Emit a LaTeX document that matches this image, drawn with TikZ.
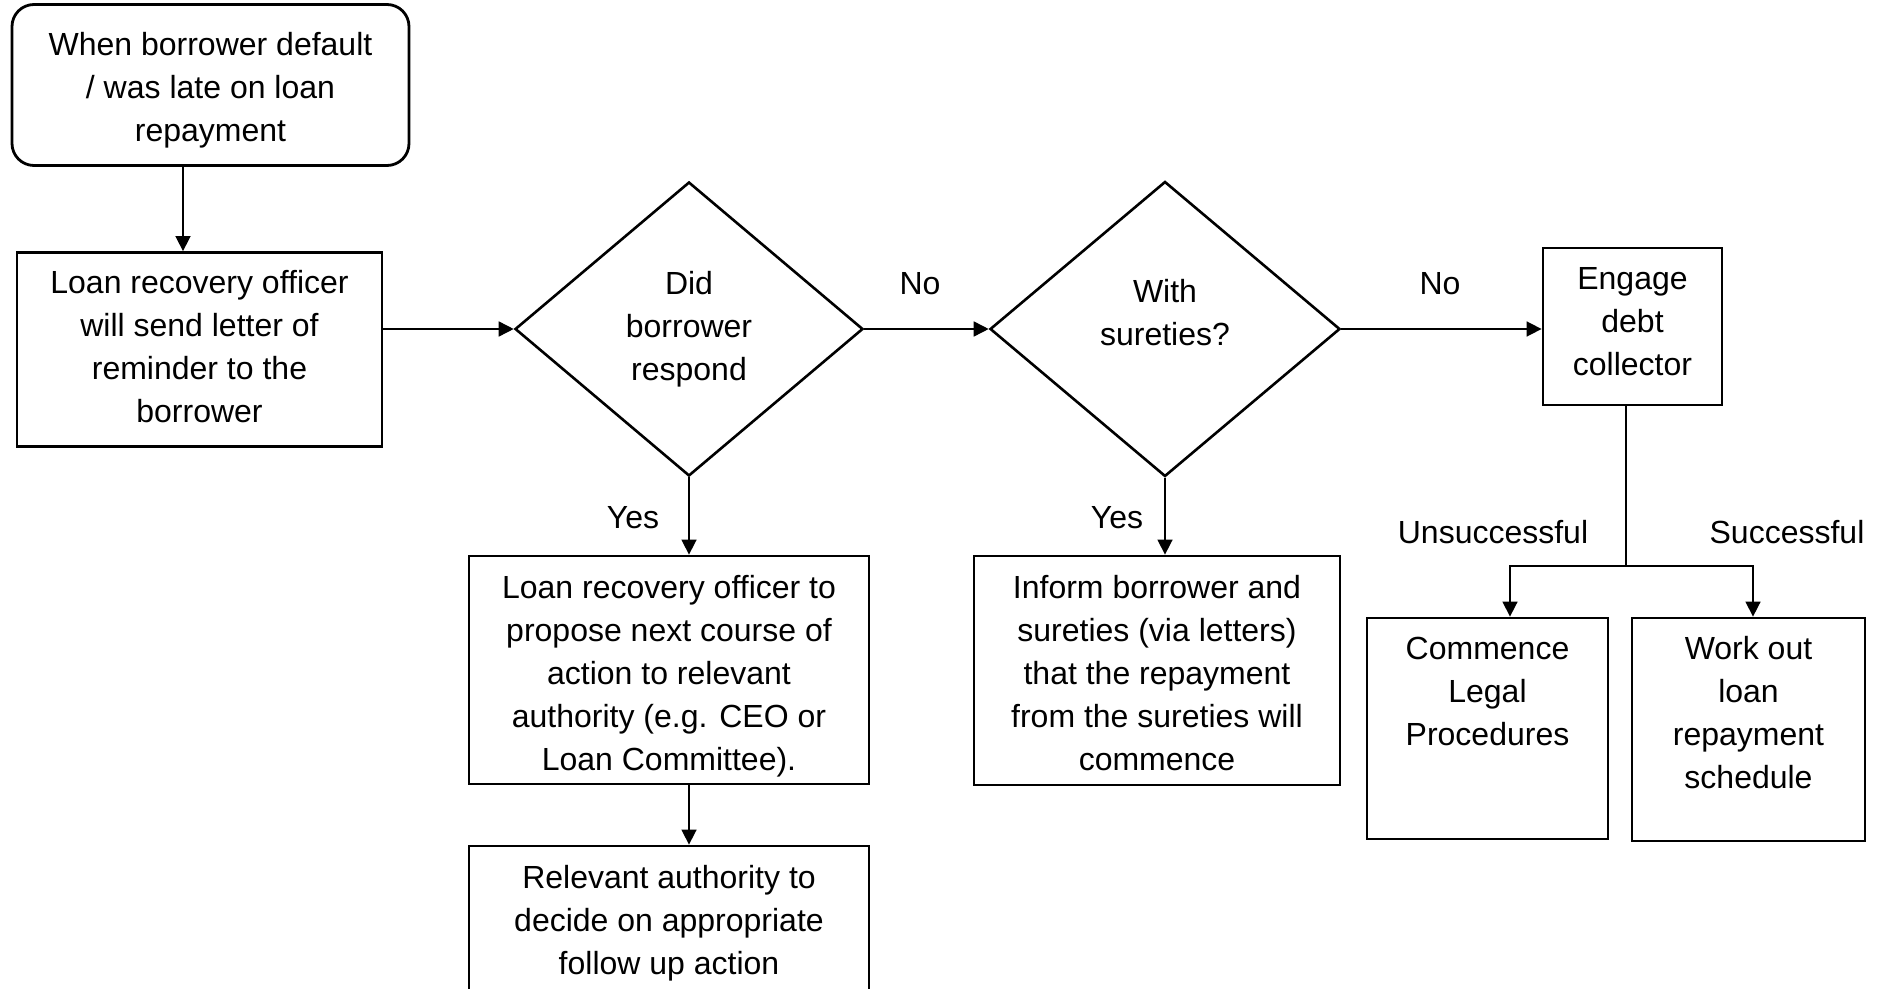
\documentclass[tikz,border=0pt]{standalone}
\usepackage{fontspec}
\setmainfont{Liberation Sans}
\usetikzlibrary{shapes.geometric,arrows.meta}
\newcommand\dnby[1]{\rule{0pt}{#1}}
\newcommand\upby[1]{\rule[-#1]{0pt}{0pt}}
\begin{document}
\begin{tikzpicture}[x=0.5pt,y=-0.5pt,
  font=\fontsize{16pt}{21.5pt}\selectfont,
  box/.style={draw,line width=1.4pt,rectangle,align=center,inner sep=0pt},
  rbox/.style={box,rounded corners=11pt},
  dec/.style={draw,line width=1.3pt,diamond,align=center,inner sep=0pt},
  arr/.style={line width=0.8pt,-{Triangle[length=7.5pt,width=7.5pt]}},
  ln/.style={line width=0.8pt},
  lbl/.style={inner sep=0pt}]
\useasboundingbox (0,0) rectangle (1879,989);
\node[rbox,minimum width=198.5pt,minimum height=80.5pt] (start) at (210.5,85) {\dnby{17pt}When borrower default\\/ was late on loan\\repayment};
\node[box,minimum width=182.5pt,minimum height=97pt] (remind) at (199.5,349.5) {Loan recovery officer\\will send letter of\\reminder to the\\borrower\upby{2.6pt}};
\node[dec,minimum width=174pt,minimum height=147pt] (d1) at (689,329) {Did\\borrower\\respond};
\node[dec,minimum width=175pt,minimum height=147.5pt] (d2) at (1165,329) {With\\sureties?\upby{17pt}};
\node[box,minimum width=89.5pt,minimum height=78.5pt] (engage) at (1632.5,326.5) {Engage\\debt\\collector\upby{5pt}};
\node[box,minimum width=200pt,minimum height=114pt] (propose) at (669,670) {\dnby{17.5pt}Loan recovery officer to\\propose next course of\\action to relevant\\authority (e.g. CEO or\\Loan Committee).};
\node[box,minimum width=200pt,minimum height=74pt] (decide) at (669,920) {\dnby{15pt}Relevant authority to\\decide on appropriate\\follow up action};
\node[box,minimum width=183pt,minimum height=114.5pt] (inform) at (1157,670.5) {\dnby{14pt}Inform borrower and\\sureties (via letters)\\that the repayment\\from the sureties will\\commence};
\node[box] (legal) at (1487.5,728.5) {\parbox[c][110.5pt][t]{120.5pt}{\centering\vspace{9.5pt}Commence\\Legal\\Procedures}};
\node[box] (work) at (1748.5,729.5) {\parbox[c][111.5pt][t]{116.5pt}{\centering\vspace{9pt}Work out\\loan\\repayment\\schedule}};
\coordinate (xa) at (183,0);
\coordinate (split) at (1626,566);
\coordinate (ua) at (1510,566);
\coordinate (sa) at (1753,566);
\draw[arr] (start.south -| xa) -- (remind.north -| xa);
\draw[arr] (remind.east |- d1.west) -- (d1.west);
\draw[arr] (d1.east) -- (d2.west);
\draw[arr] (d2.east) -- (d2.east -| engage.west);
\draw[arr] (d1.south) -- (d1.south |- propose.north);
\draw[arr] (propose.south -| d1.south) -- (decide.north -| d1.south);
\draw[arr] (d2.south) -- (d2.south |- inform.north);
\draw[ln] (engage.south -| split) -- (split);
\draw[arr] (split) -- (ua) -- (ua |- legal.north);
\draw[arr] (split) -- (sa) -- (sa |- work.north);
\node[lbl] (no1) at (920,284) {No};
\node[lbl] (no2) at (1440,284) {No};
\node[lbl] (yes1) at (633,518) {Yes};
\node[lbl] (yes2) at (1117,518) {Yes};
\node[lbl] (unsucc) at (1493,532) {Unsuccessful};
\node[lbl] (succ) at (1787,532) {Successful};
\end{tikzpicture}
\end{document}
